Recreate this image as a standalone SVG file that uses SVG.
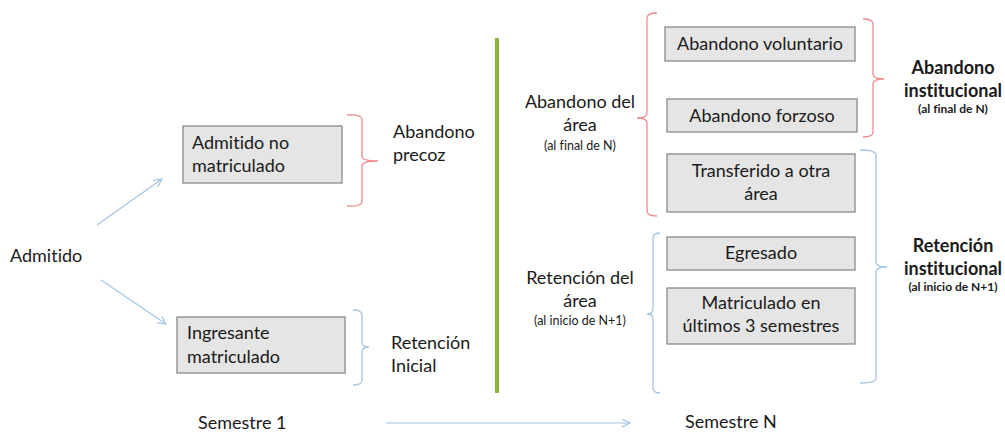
<svg xmlns="http://www.w3.org/2000/svg" width="1005" height="433" viewBox="0 0 1005 433">
<defs>
<style>
text{font-variant-ligatures:none;font-feature-settings:"liga" 0,"clig" 0}
.t{font-family:Lato,"Liberation Sans",sans-serif;font-size:18px;fill:#1a1a1a}
.s{font-family:Lato,"Liberation Sans",sans-serif;font-size:12.5px;fill:#1a1a1a}
.b{font-weight:bold}
.m{text-anchor:middle}
.box{fill:#e5e5e5;stroke:#8a8a8a;stroke-width:1.3}
.red{fill:none;stroke:#ee8a8c;stroke-width:1.3}
.blue{fill:none;stroke:#a4c4e4;stroke-width:1.3}
.arr{fill:none;stroke:#a4c4e4;stroke-width:1.2}
</style>
<marker id="ah" markerWidth="10" markerHeight="10" refX="8" refY="4" orient="auto" markerUnits="userSpaceOnUse">
<path d="M0,0 L8,4 L0,8" fill="none" stroke="#a4c4e4" stroke-width="1.2"/>
</marker>
</defs>
<rect width="1005" height="433" fill="#ffffff"/>

<g id="connectors">
<line class="arr" x1="97" y1="225" x2="162" y2="179" marker-end="url(#ah)"/>
<line class="arr" x1="101" y1="280" x2="166" y2="324" marker-end="url(#ah)"/>
<line class="arr" x1="386" y1="423" x2="630" y2="423" marker-end="url(#ah)"/>
<line x1="497" y1="38" x2="497" y2="393" stroke="#8cb63c" stroke-width="4"/>
<path class="red" d="M347,115 Q362,114 362,120 L362,156 Q362,161 378,161 Q362,161 362,166 L362,201 Q362,207 347,206"/>
<path class="blue" d="M353,310 Q362,310 362,315 L362,342 Q362,347 369,347 Q362,347 362,352 L362,380 Q362,385 353,385"/>
<path class="red" d="M657,13 Q647,13 647,18 L647,113 Q647,118 637,118 Q647,118 647,123 L647,211 Q647,216 657,216"/>
<path class="blue" d="M660,233 Q653,233 653,238 L653,309 Q653,314 647,314 Q653,314 653,319 L653,388 Q653,393 660,393"/>
<path class="red" d="M863,19 Q873,19 873,24 L873,74 Q873,79 884,79 Q873,79 873,84 L873,132 Q873,137 863,137"/>
<path class="blue" d="M860,150 Q876,150 876,155 L876,262 Q876,267 887,267 Q876,267 876,272 L876,378 Q876,383 860,383"/>
</g>

<g id="admitido"><text class="t" x="10" y="262">Admitido</text></g>

<g id="admitido-no-matriculado">
<rect class="box" x="183" y="126" width="159" height="57"/>
<text class="t" x="192" y="149">Admitido no</text>
<text class="t" x="192" y="172">matriculado</text>
</g>
<g id="ingresante-matriculado">
<rect class="box" x="177" y="317" width="168" height="56"/>
<text class="t" x="187" y="339">Ingresante</text>
<text class="t" x="187" y="363">matriculado</text>
</g>

<g id="abandono-precoz">
<text class="t" x="393" y="138">Abandono</text>
<text class="t" x="393" y="161">precoz</text>
</g>
<g id="retencion-inicial">
<text class="t" x="391" y="349">Retención</text>
<text class="t" x="391" y="372">Inicial</text>
</g>

<g id="abandono-del-area">
<text class="t m" x="580" y="108">Abandono del</text>
<text class="t m" x="580" y="131">área</text>
<text class="s m" x="580" y="150">(al final de N)</text>
</g>
<g id="retencion-del-area">
<text class="t m" x="580" y="284">Retención del</text>
<text class="t m" x="580" y="307">área</text>
<text class="s m" x="580" y="325">(al inicio de N+1)</text>
</g>

<g id="abandono-voluntario">
<rect class="box" x="665" y="27" width="190" height="34"/>
<text class="t m" x="760" y="50">Abandono voluntario</text>
</g>
<g id="abandono-forzoso">
<rect class="box" x="667" y="99" width="190" height="33"/>
<text class="t m" x="762" y="122">Abandono forzoso</text>
</g>
<g id="transferido">
<rect class="box" x="667" y="154" width="188" height="58"/>
<text class="t m" x="761" y="177">Transferido a otra</text>
<text class="t m" x="761" y="200">área</text>
</g>
<g id="egresado">
<rect class="box" x="667" y="237" width="188" height="33"/>
<text class="t m" x="761" y="259">Egresado</text>
</g>
<g id="matriculado-ultimos">
<rect class="box" x="667" y="288" width="188" height="56"/>
<text class="t m" x="761" y="309">Matriculado en</text>
<text class="t m" x="761" y="332">últimos 3 semestres</text>
</g>

<g id="abandono-institucional">
<text class="t b m" x="953" y="74">Abandono</text>
<text class="t b m" x="953" y="97">institucional</text>
<text class="s b m" x="953" y="113" style="font-size:12px">(al final de N)</text>
</g>
<g id="retencion-institucional">
<text class="t b m" x="953" y="252">Retención</text>
<text class="t b m" x="953" y="275">institucional</text>
<text class="s b m" x="953" y="291" style="font-size:12px">(al inicio de N+1)</text>
</g>

<g id="semestres">
<text class="t" x="198" y="429">Semestre 1</text>
<text class="t" x="685" y="428">Semestre N</text>
</g>
</svg>
